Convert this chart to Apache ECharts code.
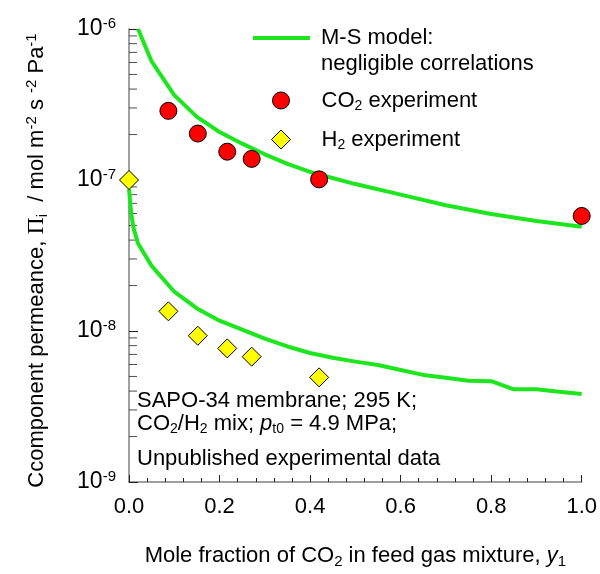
<!DOCTYPE html>
<html>
<head>
<meta charset="utf-8">
<script src="https://cdn.jsdelivr.net/npm/echarts@6/dist/echarts.min.js"></script>
<style>
  html, body { margin: 0; padding: 0; background: #fff; }
  #chart { width: 600px; height: 574px; }
</style>
</head>
<body>
<div id="chart"></div>
<script>
  // M-S model curves
  const modelCo2X = [0.02, 0.05, 0.1, 0.15, 0.2, 0.25, 0.3, 0.35, 0.4, 0.5, 0.6, 0.7, 0.8, 0.9, 1.0]
  const modelCo2Y = [1.0e-6, 6.1e-7, 3.65e-7, 2.62e-7, 2.08e-7, 1.74e-7, 1.48e-7, 1.28e-7, 1.13e-7,
    9.4e-8, 8.0e-8, 6.8e-8, 5.95e-8, 5.35e-8, 4.9e-8]
  const modelH2X = [0, 0.005, 0.01, 0.02, 0.05, 0.1, 0.15, 0.2, 0.25, 0.3, 0.35, 0.4, 0.45, 0.5,
    0.55, 0.6, 0.65, 0.7, 0.75, 0.8, 0.85, 0.9, 0.95, 1.0]
  const modelH2Y = [8.7e-8, 6.0e-8, 4.8e-8, 3.8e-8, 2.7e-8, 1.82e-8, 1.41e-8, 1.17e-8, 1.02e-8, 8.9e-9,
    7.9e-9, 7.15e-9, 6.65e-9, 6.27e-9, 5.95e-9, 5.52e-9, 5.12e-9, 4.91e-9, 4.69e-9, 4.65e-9,
    4.11e-9, 4.11e-9, 3.96e-9, 3.83e-9]

  // experiments
  const expCo2X = [0.087, 0.152, 0.217, 0.271, 0.42, 1.0]
  const expCo2Y = [2.87e-7, 2.03e-7, 1.54e-7, 1.38e-7, 1.01e-7, 5.78e-8]
  const expH2X = [0.0, 0.087, 0.152, 0.217, 0.271, 0.42]
  const expH2Y = [1.0e-7, 1.35e-8, 9.3e-9, 7.67e-9, 6.76e-9, 4.93e-9]

  // log axis minor ticks (2..9 in each decade)
  const minorTickY = []
  for (const d of [1e-9, 1e-8, 1e-7]) {
    for (const m of [2, 3, 4, 5, 6, 7, 8, 9]) minorTickY.push(m * d)
  }

  const zip = (xs, ys) => xs.map((x, i) => [x, ys[i]])

  const green = '#1ee61e'
  const font = 'Liberation Sans, Arial, sans-serif'
  const rich = {
    n: { fontSize: 22, fontFamily: font, color: '#000', lineHeight: 26 },
    sub: { fontSize: 14, fontFamily: font, color: '#000', padding: [11, 0, 0, 0], lineHeight: 26 },
    sup: { fontSize: 14, fontFamily: font, color: '#000', padding: [0, 0, 11, 0], lineHeight: 26 },
    it: { fontSize: 22, fontFamily: font, color: '#000', fontStyle: 'italic', lineHeight: 26 }
  }
  const titleRich = {
    n: { fontSize: 22, fontFamily: font, color: '#000' },
    sub: { fontSize: 15, fontFamily: font, color: '#000', padding: [11, 0, 0, 0] },
    sup: { fontSize: 15, fontFamily: font, color: '#000', padding: [0, 0, 11, 0] },
    it: { fontSize: 22, fontFamily: font, color: '#000', fontStyle: 'italic' },
    pi: { fontSize: 24, fontFamily: 'Liberation Serif, serif', color: '#000' }
  }

  const legendBase = { padding: 0, selectedMode: false, textStyle: { rich: rich } }

  const chart = echarts.init(document.getElementById('chart'))
  chart.setOption({
    animation: false,
    backgroundColor: '#fff',
    textStyle: { fontFamily: font },
    grid: { left: 129, right: 18, top: 29, bottom: 92 },
    legend: [
      Object.assign({}, legendBase, {
        left: 253, top: 1, data: ['M-S model'],
        icon: 'rect', itemWidth: 57, itemHeight: 4,
        textStyle: { rich: rich, padding: [0, 0, 0, 6] },
        formatter: () => '{n| }\n{n|M-S model:}\n{n|negligible correlations}'
      }),
      Object.assign({}, legendBase, {
        left: 272, top: 88, data: ['CO2 experiment'],
        icon: 'circle', itemWidth: 17, itemHeight: 17,
        itemStyle: { borderWidth: 1, borderColor: '#000' },
        textStyle: { rich: rich, padding: [0, 0, 0, 27] },
        formatter: () => '{n|CO}{sub|2}{n| experiment}'
      }),
      Object.assign({}, legendBase, {
        left: 271, top: 127, data: ['H2 experiment'],
        icon: 'diamond', itemWidth: 19, itemHeight: 19,
        itemStyle: { borderWidth: 1, borderColor: '#000' },
        textStyle: { rich: rich, padding: [0, 0, 0, 26] },
        formatter: () => '{n|H}{sub|2}{n| experiment}'
      })
    ],
    xAxis: {
      type: 'value', min: 0, max: 1, interval: 0.2,
      splitLine: { show: false },
      axisLine: { show: true, lineStyle: { color: '#808080', width: 1.5 } },
      axisTick: { show: true, inside: true, length: 7, lineStyle: { color: '#222' } },
      minorTick: { show: true, splitNumber: 5, length: 4, lineStyle: { color: '#222' } },
      axisLabel: { fontSize: 22, color: '#000', margin: 14, formatter: v => v.toFixed(1) },
      name: '{n|Mole fraction of CO}{sub|2}{n| in feed gas mixture, }{it|y}{sub|1}',
      nameLocation: 'middle', nameGap: 61,
      nameTextStyle: { rich: titleRich }
    },
    yAxis: {
      type: 'log', logBase: 10, min: 1e-9, max: 1e-6,
      splitLine: { show: false },
      axisLine: { show: true, lineStyle: { color: '#808080', width: 1.5 } },
      axisTick: { show: true, inside: true, length: 9, lineStyle: { color: '#222' } },
      axisLabel: {
        margin: 13, color: '#000',
        formatter: v => '{b|10}{s|' + Math.round(Math.log10(v)) + '}',
        rich: {
          b: { fontSize: 23, fontFamily: font, color: '#000' },
          s: { fontSize: 15, fontFamily: font, color: '#000', padding: [0, 0, 10, 0] }
        }
      },
      name: '{n|Ccomponent permeance, }{pi|Π}{sub|i}{n|  / mol m}{sup|-2}{n| s }{sup|-2}{n| Pa}{sup|-1}',
      nameLocation: 'middle', nameGap: 79,
      nameTextStyle: { rich: titleRich, padding: [0, 10, 0, 0] }
    },
    series: [
      {
        name: 'M-S model', type: 'line', data: zip(modelCo2X, modelCo2Y),
        symbol: 'none', lineStyle: { color: green, width: 4 }, itemStyle: { color: green }, z: 2
      },
      {
        name: 'M-S model', type: 'line', data: zip(modelH2X, modelH2Y),
        symbol: 'none', lineStyle: { color: green, width: 4 }, itemStyle: { color: green }, z: 2
      },
      {
        name: 'CO2 experiment', type: 'scatter', data: zip(expCo2X, expCo2Y),
        symbol: 'circle', symbolSize: 17, clip: false,
        itemStyle: { color: '#ff0000', borderColor: '#000', borderWidth: 1, opacity: 1 }, z: 3
      },
      {
        name: 'H2 experiment', type: 'scatter', data: zip(expH2X, expH2Y),
        symbol: 'diamond', symbolSize: 19, clip: false,
        itemStyle: { color: '#ffff00', borderColor: '#000', borderWidth: 1, opacity: 1 }, z: 3
      },
      {
        // minor ticks of the log axis
        type: 'scatter', data: minorTickY.map(v => [0, v]), silent: true, clip: false,
        symbol: 'rect', symbolSize: [8, 1], symbolOffset: [4, 0],
        itemStyle: { color: '#222' }, z: 1
      }
    ],
    graphic: [
      {
        type: 'text', x: 137, y: 401,
        style: { text: '{n|SAPO-34 membrane; 295 K;}', rich: rich, verticalAlign: 'middle' }
      },
      {
        type: 'text', x: 137, y: 424,
        style: {
          text: '{n|CO}{sub|2}{n|/H}{sub|2}{n| mix; }{it|p}{sub|t0}{n| = 4.9 MPa;}',
          rich: rich, verticalAlign: 'middle'
        }
      },
      {
        type: 'text', x: 137, y: 459,
        style: { text: '{n|Unpublished experimental data}', rich: rich, verticalAlign: 'middle' }
      }
    ]
  })
</script>
</body>
</html>
